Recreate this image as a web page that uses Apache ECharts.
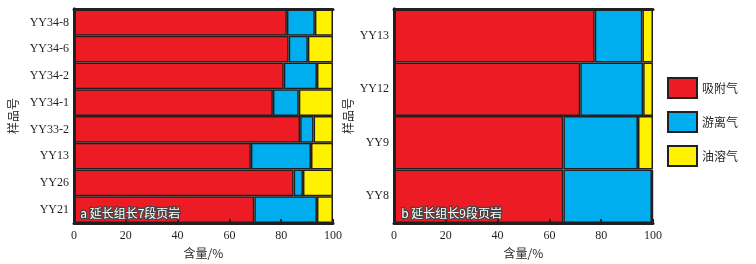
<!DOCTYPE html>
<html><head><meta charset="utf-8">
<script src="https://cdn.jsdelivr.net/npm/echarts@6/dist/echarts.min.js"></script>
<style>html,body{margin:0;padding:0;background:#fff}#c{width:756px;height:264px}</style>
</head><body><div id="c"></div>
<script>
// Panel a (长7)
const catsA = ['YY21','YY26','YY13','YY33-2','YY34-1','YY34-2','YY34-6','YY34-8'];
const adsA  = [69.6, 84.8, 68.3, 87.3, 76.8, 81.0, 82.9, 82.2];
const freeA = [24.2,  3.6, 23.2,  5.2, 10.0, 12.8,  7.4, 10.8];
const solA  = [ 6.2, 11.6,  8.5,  7.5, 13.2,  6.2,  9.7,  7.0];
// Panel b (长9)
const catsB = ['YY8','YY9','YY12','YY13'];
const adsB  = [65.4, 65.4, 71.9, 77.5];
const freeB = [34.2, 28.8, 24.3, 18.4];
const solB  = [ 0.4,  5.8,  3.8,  4.1];
const xTicks = [0,20,40,60,80,100];
const names = ['吸附气','游离气','油溶气'];
const colors = ['#ed1c24','#00aeef','#fff200'];
const dark = '#231f20';
const serif = '"Liberation Serif","DejaVu Serif",serif';
const cjk = '"Noto Sans CJK SC",sans-serif';

const chart = echarts.init(document.getElementById('c'), null, {renderer:'canvas'});
const grids = [
  {left:74, top:9, width:259, height:218},
  {left:394, top:9, width:259, height:218}
];
function xAx(gi){
  return [{
    gridIndex:gi, type:'value', min:0, max:100, interval:20, z:5,
    name:'含量/%', nameLocation:'middle', nameGap:21,
    nameTextStyle:{fontFamily:cjk, fontSize:12, color:dark},
    axisLine:{show:true, lineStyle:{color:dark, width:3}},
    axisTick:{show:true, inside:true, length:4, lineStyle:{color:dark, width:2}},
    axisLabel:{fontFamily:serif, fontSize:12, color:dark, margin:7,
      formatter:v=>xTicks.includes(v)?String(v):''},
    splitLine:{show:false}
  },{
    gridIndex:gi, type:'value', min:0, max:100, position:'top', z:5,
    axisLine:{show:true, lineStyle:{color:dark, width:3}},
    axisTick:{show:false}, axisLabel:{show:false}, splitLine:{show:false}
  }];
}
function yAx(gi, cats){
  return [{
    gridIndex:gi, type:'category', data:cats, z:5,
    name:'样品号', nameLocation:'middle', nameGap:gi===0?55:40, nameRotate:90,
    nameTextStyle:{fontFamily:cjk, fontSize:12, color:dark},
    axisLine:{show:true, lineStyle:{color:dark, width:3}},
    axisTick:{show:false},
    axisLabel:{fontFamily:serif, fontSize:12, color:dark, margin:5},
    splitLine:{show:false}
  },{
    gridIndex:gi, type:'category', data:cats, position:'right', z:5,
    axisLine:{show:true, lineStyle:{color:dark, width:3}},
    axisTick:{show:false}, axisLabel:{show:false}
  }];
}
function mk(gi, data, idx, stack){
  return {
    type:'bar', name:names[idx], stack:stack, xAxisIndex:gi*2, yAxisIndex:gi*2,
    data:data, barWidth:'100%', barCategoryGap:'0%',
    itemStyle:{color:colors[idx], borderColor:dark, borderWidth:1.5},
    emphasis:{disabled:true}, animation:false
  };
}
const ann = (txt, x) => ({
  type:'text', left:x, top:206, z:10,
  style:{text:txt, fontFamily:cjk, fontSize:12, fontWeight:'normal', fill:'#fff', stroke:'#444', lineWidth:2.5}
});
chart.setOption({
  animation:false,
  grid:grids,
  xAxis:[...xAx(0), ...xAx(1)],
  yAxis:[...yAx(0,catsA), ...yAx(1,catsB)],
  legend:{
    orient:'vertical', left:667, top:77, padding:0, itemWidth:29, itemHeight:20, itemGap:12,
    icon:'rect', data:names, selectedMode:false,
    textStyle:{fontFamily:cjk, fontSize:12, color:dark},
    itemStyle:{borderColor:dark, borderWidth:2}
  },
  series:[
    mk(0,adsA,0,'a'), mk(0,freeA,1,'a'), mk(0,solA,2,'a'),
    mk(1,adsB,0,'b'), mk(1,freeB,1,'b'), mk(1,solB,2,'b')
  ],
  graphic:[ann('a 延长组长7段页岩', 79), ann('b 延长组长9段页岩', 400)]
});
</script></body></html>
